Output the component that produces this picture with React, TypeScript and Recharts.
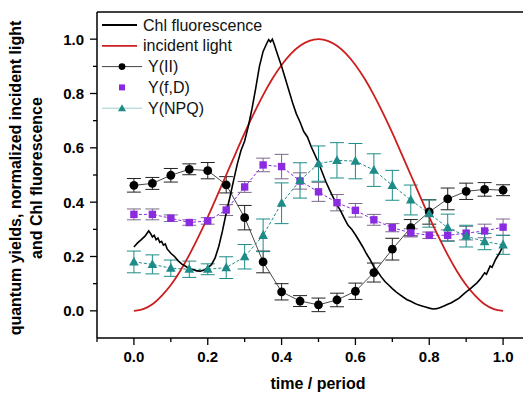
import React from 'react';
import { LineChart, Line, XAxis, YAxis, ErrorBar, ReferenceLine } from 'recharts';

const BLACK = '#000000';
const RED = '#cc1f1f';
const PURPLE = '#8a2be2';
const TEAL = '#1d8c88';
const FONT = '"Liberation Sans", Arial, sans-serif';

// sampling times of the quantum yield measurements (fraction of period)
const times = [0, 0.05, 0.1, 0.15, 0.2, 0.25, 0.3, 0.35, 0.4, 0.45, 0.5, 0.55, 0.6, 0.65, 0.7, 0.75, 0.8, 0.85, 0.9, 0.95, 1.0];

const yII = [0.462, 0.469, 0.499, 0.521, 0.516, 0.464, 0.343, 0.18, 0.07, 0.036, 0.022, 0.04, 0.072, 0.141, 0.227, 0.306, 0.364, 0.412, 0.44, 0.447, 0.444];
const yIIErr = [0.025, 0.022, 0.025, 0.02, 0.03, 0.03, 0.045, 0.04, 0.03, 0.02, 0.025, 0.025, 0.03, 0.035, 0.04, 0.03, 0.045, 0.04, 0.03, 0.025, 0.02];

const yfD = [0.355, 0.355, 0.341, 0.325, 0.331, 0.371, 0.456, 0.537, 0.531, 0.478, 0.438, 0.398, 0.37, 0.335, 0.306, 0.287, 0.278, 0.278, 0.286, 0.294, 0.308];
const yfDErr = [0.02, 0.02, 0.012, 0.01, 0.012, 0.02, 0.02, 0.025, 0.045, 0.03, 0.035, 0.03, 0.025, 0.02, 0.015, 0.015, 0.012, 0.02, 0.025, 0.025, 0.03];

const yNPQ = [0.18, 0.171, 0.157, 0.153, 0.153, 0.159, 0.199, 0.278, 0.396, 0.48, 0.542, 0.554, 0.551, 0.518, 0.462, 0.408, 0.358, 0.306, 0.275, 0.255, 0.243];
const yNPQErr = [0.04, 0.035, 0.03, 0.03, 0.02, 0.04, 0.045, 0.06, 0.075, 0.065, 0.065, 0.065, 0.065, 0.06, 0.055, 0.055, 0.05, 0.05, 0.04, 0.03, 0.035];

// normalized incident light
const lightTime = [0, 0.025, 0.05, 0.075, 0.1, 0.125, 0.15, 0.175, 0.2, 0.225, 0.25, 0.275, 0.3, 0.325, 0.35, 0.375, 0.4, 0.425, 0.45, 0.475, 0.5,
  0.525, 0.55, 0.575, 0.6, 0.625, 0.65, 0.675, 0.7, 0.725, 0.75, 0.775, 0.8, 0.825, 0.85, 0.875, 0.9, 0.925, 0.95, 0.975, 1.0];
const lightValue = [0, 0.006, 0.024, 0.055, 0.095, 0.146, 0.206, 0.273, 0.345, 0.422, 0.5, 0.578, 0.655, 0.727, 0.794, 0.854, 0.905, 0.946, 0.976, 0.994, 1.0,
  0.994, 0.976, 0.946, 0.905, 0.854, 0.794, 0.727, 0.655, 0.578, 0.5, 0.422, 0.345, 0.273, 0.206, 0.146, 0.095, 0.055, 0.024, 0.006, 0];

// normalized Chl fluorescence trace
const chlTime = [0, 0.01, 0.02, 0.03, 0.04, 0.045, 0.05, 0.055, 0.06, 0.065, 0.07, 0.075, 0.08, 0.085, 0.09, 0.1, 0.11, 0.12, 0.13, 0.14, 0.15, 0.16, 0.17, 0.18, 0.19,
  0.2, 0.21, 0.22, 0.23, 0.24, 0.25, 0.26, 0.27, 0.28, 0.29, 0.3, 0.31, 0.32, 0.33, 0.34, 0.35, 0.36, 0.365, 0.37, 0.375, 0.38, 0.39,
  0.4, 0.41, 0.42, 0.43, 0.44, 0.45, 0.46, 0.47, 0.48, 0.49, 0.5, 0.51, 0.52, 0.53, 0.54, 0.55, 0.56, 0.57, 0.58, 0.59,
  0.6, 0.61, 0.62, 0.63, 0.64, 0.65, 0.66, 0.67, 0.68, 0.69, 0.7, 0.71, 0.72, 0.73, 0.74, 0.75, 0.76, 0.77, 0.78, 0.79,
  0.8, 0.81, 0.82, 0.83, 0.84, 0.85, 0.86, 0.87, 0.88, 0.89, 0.9, 0.91, 0.92, 0.93, 0.94, 0.95, 0.955, 0.96, 0.965, 0.97, 0.98, 0.99, 1.0];
const chlValue = [0.235, 0.25, 0.262, 0.275, 0.294, 0.285, 0.272, 0.278, 0.262, 0.268, 0.252, 0.256, 0.242, 0.246, 0.228, 0.212, 0.2, 0.184, 0.172, 0.164, 0.155, 0.152, 0.147, 0.146, 0.15,
  0.158, 0.17, 0.195, 0.238, 0.295, 0.36, 0.418, 0.48, 0.54, 0.59, 0.625, 0.68, 0.745, 0.82, 0.9, 0.955, 0.985, 0.998, 0.99, 1.0, 0.981, 0.94,
  0.9, 0.855, 0.81, 0.765, 0.725, 0.695, 0.66, 0.64, 0.605, 0.575, 0.545, 0.51, 0.475, 0.445, 0.417, 0.39, 0.368, 0.34, 0.315, 0.3,
  0.28, 0.258, 0.235, 0.21, 0.188, 0.162, 0.145, 0.125, 0.108, 0.095, 0.082, 0.07, 0.06, 0.05, 0.041, 0.035, 0.028, 0.022, 0.018, 0.014,
  0.01, 0.007, 0.008, 0.012, 0.018, 0.024, 0.03, 0.038, 0.046, 0.058, 0.07, 0.08, 0.092, 0.104, 0.12, 0.14, 0.135, 0.15, 0.165, 0.16, 0.19, 0.212, 0.24];

const tenthTicks = [-0.1, 0, 0.1, 0.2, 0.3, 0.4, 0.5, 0.6, 0.7, 0.8, 0.9, 1.0, 1.1];

const yieldData = times.map((t, i) => ({
  t,
  yII: yII[i], yIIErr: yIIErr[i],
  yfD: yfD[i], yfDErr: yfDErr[i],
  yNPQ: yNPQ[i], yNPQErr: yNPQErr[i],
}));
const lightData = lightTime.map((t, i) => ({ t, v: lightValue[i] }));
const chlData = chlTime.map((t, i) => ({ t, v: chlValue[i] }));

const isMajor = (v: number) => Math.round(v * 10) % 2 === 0;

const XTick = ({ x, y, payload }: any) => {
  const v = payload.value;
  const major = isMajor(v);
  return (
    <g>
      <line x1={x} x2={x} y1={y} y2={y + (major ? 7 : 4)} stroke={BLACK} strokeWidth={1.3} />
      {major && (
        <text x={x} y={y + 24} textAnchor="middle" fontFamily={FONT} fontWeight="bold" fontSize={15} fill={BLACK}>
          {v.toFixed(1)}
        </text>
      )}
    </g>
  );
};

const YTick = ({ x, y, payload }: any) => {
  const v = payload.value;
  const major = isMajor(v);
  if (v < 0 || v > 1.05) return <g />;
  return (
    <g>
      <line x1={x} x2={x - (major ? 7 : 4)} y1={y} y2={y} stroke={BLACK} strokeWidth={1.3} />
      {major && (
        <text x={x - 13} y={y + 5.5} textAnchor="end" fontFamily={FONT} fontWeight="bold" fontSize={15} fill={BLACK}>
          {v.toFixed(1)}
        </text>
      )}
    </g>
  );
};

const CircleDot = ({ cx, cy, index }: any) =>
  cx == null ? null : <circle key={`c${index}`} cx={cx} cy={cy} r={4.4} fill={BLACK} />;

const SquareDot = ({ cx, cy, index }: any) =>
  cx == null ? null : <rect key={`s${index}`} x={cx - 3.7} y={cy - 3.7} width={7.4} height={7.4} fill={PURPLE} />;

const TriangleDot = ({ cx, cy, index }: any) =>
  cx == null ? null : (
    <path key={`t${index}`} d={`M${cx},${cy - 5.2} L${cx + 4.8},${cy + 3.6} L${cx - 4.8},${cy + 3.6} Z`} fill={TEAL} />
  );

const legendRows = [
  { name: 'Chl fluorescence', kind: 'line', color: BLACK },
  { name: 'incident light', kind: 'line', color: RED },
  { name: 'Y(II)', kind: 'circle', color: BLACK },
  { name: 'Y(f,D)', kind: 'square', color: PURPLE },
  { name: 'Y(NPQ)', kind: 'triangle', color: TEAL },
];

// legend drawn over the plot, top-left, as in the original figure
const ChartLegend = () => (
  <svg width={180} height={104} style={{ position: 'absolute', left: 92, top: 6, overflow: 'visible' }}>
    {legendRows.map((r, i) => {
      const y = 11 + i * 20.8;
      const textX = r.kind === 'line' ? 43 : 48;
      return (
        <g key={r.name}>
          {r.kind === 'line' && <line x1={2} x2={37} y1={y} y2={y} stroke={r.color} strokeWidth={1.8} />}
          {r.kind === 'circle' && (
            <>
              <line x1={2} x2={42} y1={y} y2={y} stroke="#444" strokeWidth={1} />
              <circle cx={22} cy={y} r={3.4} fill={BLACK} />
            </>
          )}
          {r.kind === 'square' && <rect x={19} y={y - 3} width={6} height={6} fill={PURPLE} />}
          {r.kind === 'triangle' && (
            <>
              <line x1={2} x2={42} y1={y} y2={y} stroke="#9ccfcc" strokeWidth={1} />
              <path d={`M22,${y - 4} L26,${y + 3} L18,${y + 3} Z`} fill={TEAL} />
            </>
          )}
          <text x={textX} y={y + 5.5} fontFamily={FONT} fontSize={16} fill="#111">{r.name}</text>
        </g>
      );
    })}
  </svg>
);

const XTitle = () => (
  <text x={310} y={381} textAnchor="middle" fontFamily={FONT} fontWeight="bold" fontSize={16} fill={BLACK}>
    time / period
  </text>
);

const YTitle = () => (
  <g fontFamily={FONT} fontWeight="bold" fontSize={16} fill={BLACK}>
    <text x={7.5} y={170} transform="rotate(-90 7.5 170)" textAnchor="middle" dominantBaseline="central">
      quantum yields, normalized incident light
    </text>
    <text x={28.5} y={170} transform="rotate(-90 28.5 170)" textAnchor="middle" dominantBaseline="central">
      and Chl fluorescence
    </text>
  </g>
);

export default function App() {
  return (
    <div style={{ position: 'relative', width: 522, height: 386, overflow: 'hidden', background: '#fff' }}>
      <LineChart width={532} height={386} margin={{ top: 4, right: 0, left: 0, bottom: 0 }}>
        <XAxis
          type="number"
          dataKey="t"
          domain={[-0.1, 1.1]}
          ticks={tenthTicks}
          interval={0}
          allowDataOverflow
          height={56}
          tickSize={0}
          tickMargin={0}
          tickLine={false}
          axisLine={{ stroke: BLACK, strokeWidth: 1.5 }}
          tick={<XTick />}
          label={{ content: () => <XTitle /> }}
        />
        <YAxis
          type="number"
          domain={[-0.1, 1.1]}
          ticks={tenthTicks}
          interval={0}
          allowDataOverflow
          width={89}
          tickSize={0}
          tickMargin={0}
          tickLine={false}
          axisLine={{ stroke: BLACK, strokeWidth: 1.5 }}
          tick={<YTick />}
          label={{ content: () => <YTitle /> }}
        />
        <ReferenceLine y={1.1} stroke={BLACK} strokeWidth={1.5} />

        <Line
          data={yieldData}
          dataKey="yII"
          name="Y(II)"
          type="linear"
          stroke="#333"
          strokeWidth={0.9}
          dot={CircleDot}
          activeDot={false}
          isAnimationActive={false}
        >
          <ErrorBar dataKey="yIIErr" width={7} stroke="#222" strokeWidth={1} direction="y" />
        </Line>
        <Line
          data={yieldData}
          dataKey="yfD"
          name="Y(f,D)"
          type="linear"
          stroke={PURPLE}
          strokeWidth={1}
          strokeDasharray="3 2"
          dot={SquareDot}
          activeDot={false}
          isAnimationActive={false}
        >
          <ErrorBar dataKey="yfDErr" width={7} stroke="#7a6a8a" strokeWidth={1} direction="y" />
        </Line>
        <Line
          data={yieldData}
          dataKey="yNPQ"
          name="Y(NPQ)"
          type="linear"
          stroke={TEAL}
          strokeWidth={1}
          strokeDasharray="3 2"
          dot={TriangleDot}
          activeDot={false}
          isAnimationActive={false}
        >
          <ErrorBar dataKey="yNPQErr" width={7} stroke={TEAL} strokeWidth={1} direction="y" />
        </Line>
        <Line
          data={lightData}
          dataKey="v"
          name="incident light"
          type="monotone"
          stroke={RED}
          strokeWidth={1.8}
          dot={false}
          activeDot={false}
          isAnimationActive={false}
        />
        <Line
          data={chlData}
          dataKey="v"
          name="Chl fluorescence"
          type="linear"
          stroke={BLACK}
          strokeWidth={1.6}
          dot={false}
          activeDot={false}
          isAnimationActive={false}
        />
      </LineChart>
      <ChartLegend />
    </div>
  );
}
